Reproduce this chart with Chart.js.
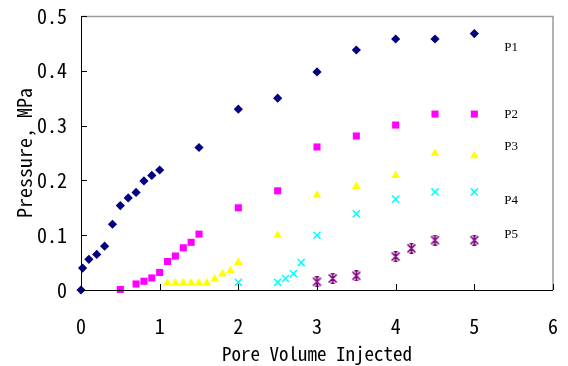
<!DOCTYPE html>
<html><head><meta charset="utf-8">
<script src="https://cdn.jsdelivr.net/npm/chart.js@4/dist/chart.umd.min.js"></script>
<style>html,body{margin:0;padding:0;background:#fff;}canvas{display:block;}</style>
</head><body>
<canvas id="c" width="568" height="366"></canvas>
<script>
const p1X = [0, 0.02, 0.1, 0.2, 0.3, 0.4, 0.5, 0.6, 0.7, 0.8, 0.9, 1.0, 1.5, 2.0, 2.5, 3.0, 3.5, 4.0, 4.5, 5.0];
const p1Y = [0, 0.04, 0.056, 0.065, 0.08, 0.12, 0.154, 0.168, 0.178, 0.199, 0.209, 0.219, 0.26, 0.33, 0.35, 0.398, 0.438, 0.458, 0.458, 0.468];
const p2X = [0.5, 0.7, 0.8, 0.9, 1.0, 1.1, 1.2, 1.3, 1.4, 1.5, 2.0, 2.5, 3.0, 3.5, 4.0, 4.5, 5.0];
const p2Y = [0.001, 0.011, 0.016, 0.022, 0.032, 0.052, 0.062, 0.077, 0.087, 0.102, 0.15, 0.181, 0.261, 0.281, 0.301, 0.321, 0.321];
const p3X = [1.1, 1.2, 1.3, 1.4, 1.5, 1.6, 1.7, 1.8, 1.9, 2.0, 2.5, 3.0, 3.5, 4.0, 4.5, 5.0];
const p3Y = [0.013, 0.013, 0.013, 0.013, 0.013, 0.013, 0.02, 0.029, 0.035, 0.05, 0.1, 0.173, 0.189, 0.209, 0.249, 0.245];
const p4X = [2.0, 2.5, 2.6, 2.7, 2.8, 3.0, 3.5, 4.0, 4.5, 5.0];
const p4Y = [0.014, 0.014, 0.021, 0.03, 0.05, 0.1, 0.139, 0.166, 0.179, 0.179];
const p5X = [3.0, 3.2, 3.5, 4.0, 4.2, 4.5, 5.0];
const p5Y = [0.015, 0.021, 0.026, 0.061, 0.076, 0.091, 0.091];

const seriesNames = ['P1', 'P2', 'P3', 'P4', 'P5'];
const labelX = [5.38, 5.38, 5.38, 5.38, 5.38];
const labelY = [0.443, 0.321, 0.261, 0.164, 0.102];

const xTicks = [0, 1, 2, 3, 4, 5, 6];
const yTicks = [0, 0.1, 0.2, 0.3, 0.4, 0.5];

function pts(xs, ys) { return xs.map((x, i) => ({x: x, y: ys[i]})); }

// custom asterisk marker (x with vertical bar)
const star = document.createElement('canvas');
star.width = 11; star.height = 11;
(function(){
  const g = star.getContext('2d');
  g.strokeStyle = '#800080'; g.lineWidth = 1.6;
  g.beginPath();
  g.moveTo(1.5,1.5); g.lineTo(9.5,9.5);
  g.moveTo(9.5,1.5); g.lineTo(1.5,9.5);
  g.moveTo(5.5,0.5); g.lineTo(5.5,10.5);
  g.moveTo(3.5,0.8); g.lineTo(7.5,0.8);
  g.moveTo(3.5,10.2); g.lineTo(7.5,10.2);
  g.stroke();
})();

const mono = "'Noto Sans Mono CJK JP', 'DejaVu Sans Mono', monospace";

const decor = {
  id: 'decor',
  afterDatasetsDraw(chart) {
    const {ctx, chartArea: a, scales: {x, y}} = chart;
    ctx.save();
    ctx.strokeStyle = '#9a9a9a'; ctx.lineWidth = 1.5;
    ctx.beginPath();
    ctx.moveTo(a.left, a.top + 0.5); ctx.lineTo(a.right, a.top + 0.5); ctx.lineTo(a.right, a.bottom);
    ctx.stroke();
    ctx.strokeStyle = '#000'; ctx.lineWidth = 1;
    ctx.beginPath();
    ctx.moveTo(a.left + 0.5, a.top); ctx.lineTo(a.left + 0.5, a.bottom + 0.5); ctx.lineTo(a.right, a.bottom + 0.5);
    xTicks.forEach(v => { if (v === 0) return; const px = Math.round(x.getPixelForValue(v)) + 0.5; ctx.moveTo(px, a.bottom); ctx.lineTo(px, a.bottom - 6); });
    yTicks.forEach(v => { if (v === 0) return; const py = Math.round(y.getPixelForValue(v)) + 0.5; ctx.moveTo(a.left, py); ctx.lineTo(a.left + 6, py); });
    ctx.stroke();
    ctx.fillStyle = '#000';
    ctx.font = "13px 'Liberation Serif', serif";
    ctx.textAlign = 'left'; ctx.textBaseline = 'middle';
    seriesNames.forEach((n, i) => ctx.fillText(n, x.getPixelForValue(labelX[i]), y.getPixelForValue(labelY[i])));
    ctx.restore();
  }
};

new Chart(document.getElementById('c'), {
  type: 'scatter',
  data: {
    datasets: [
      {label: 'P1', data: pts(p1X, p1Y), pointStyle: 'rectRot', pointRadius: 4.6, backgroundColor: '#000080', borderColor: '#000080', borderWidth: 0},
      {label: 'P2', data: pts(p2X, p2Y), pointStyle: 'rect', pointRadius: 5, backgroundColor: '#ff00ff', borderColor: '#ff00ff', borderWidth: 0},
      {label: 'P3', data: pts(p3X, p3Y), pointStyle: 'triangle', pointRadius: 5, backgroundColor: '#ffff00', borderColor: '#ffff00', borderWidth: 0},
      {label: 'P4', data: pts(p4X, p4Y), pointStyle: 'crossRot', pointRadius: 5, backgroundColor: '#00ffff', borderColor: '#00ffff', borderWidth: 1.5},
      {label: 'P5', data: pts(p5X, p5Y), pointStyle: star, pointRadius: 5, backgroundColor: '#800080', borderColor: '#800080'}
    ]
  },
  options: {
    responsive: false,
    animation: false,
    devicePixelRatio: 1,
    layout: {padding: {top: 16, right: 15, left: 0, bottom: 0}},
    plugins: {legend: {display: false}, tooltip: {enabled: false}},
    datasets: {scatter: {clip: false}},
    scales: {
      x: {
        type: 'linear', min: 0, max: 6,
        afterFit: s => { s.height = 76; s.paddingLeft = 0; s.paddingRight = 0; },
        afterBuildTicks: s => { s.ticks = xTicks.map(v => ({value: v})); },
        grid: {display: false, drawTicks: false},
        border: {display: false},
        ticks: {color: '#000', padding: 24, font: {family: mono, size: 20}, callback: v => String(v), maxRotation: 0},
        title: {display: true, text: 'Pore Volume Injected', color: '#000', font: {family: mono, size: 19}, padding: {top: 0, bottom: 1}}
      },
      y: {
        type: 'linear', min: 0, max: 0.5,
        afterFit: s => { s.width = 81; s.paddingTop = 0; s.paddingBottom = 0; },
        afterBuildTicks: s => { s.ticks = yTicks.map(v => ({value: v})); },
        grid: {display: false, drawTicks: false},
        border: {display: false},
        ticks: {color: '#000', padding: 14, font: {family: mono, size: 20}, callback: v => v === 0 ? '0' : v.toFixed(1)},
        title: {display: true, text: 'Pressure, MPa', color: '#000', font: {family: mono, size: 20}, padding: {top: 12, bottom: 0}}
      }
    }
  },
  plugins: [decor]
});
</script>
</body></html>
